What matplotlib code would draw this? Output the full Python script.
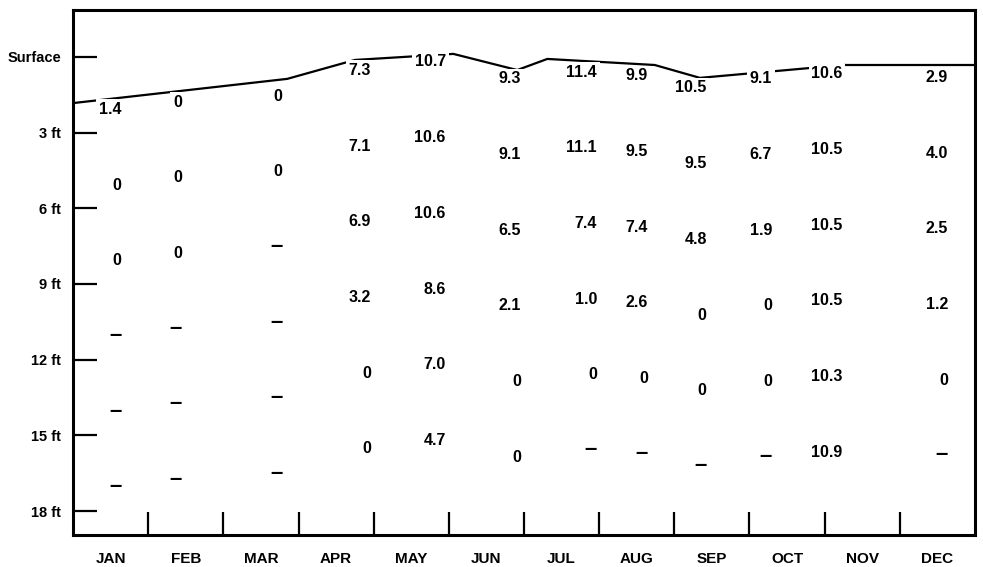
import matplotlib
matplotlib.use("Agg")
import matplotlib.pyplot as plt
import matplotlib.transforms as mtransforms

plt.rcParams['font.family'] = ['Liberation Sans', 'DejaVu Sans']
plt.rcParams['font.weight'] = 'bold'

months = ["JAN", "FEB", "MAR", "APR", "MAY", "JUN",
          "JUL", "AUG", "SEP", "OCT", "NOV", "DEC"]
depth_labels = ["Surface", "3 ft", "6 ft", "9 ft", "12 ft", "15 ft", "18 ft"]
depth_ticks = [0, 3, 6, 9, 12, 15, 18]

# readings per month, top to bottom ("–" = no reading)
readings = [
    ["1.4", "0", "0", "–", "–", "–"],
    ["0", "0", "0", "–", "–", "–"],
    ["0", "0", "–", "–", "–", "–"],
    ["7.3", "7.1", "6.9", "3.2", "0", "0"],
    ["10.7", "10.6", "10.6", "8.6", "7.0", "4.7"],
    ["9.3", "9.1", "6.5", "2.1", "0", "0"],
    ["11.4", "11.1", "7.4", "1.0", "0", "–"],
    ["9.9", "9.5", "7.4", "2.6", "0", "–"],
    ["10.5", "9.5", "4.8", "0", "0", "–"],
    ["9.1", "6.7", "1.9", "0", "0", "–"],
    ["10.6", "10.5", "10.5", "10.5", "10.3", "10.9"],
    ["2.9", "4.0", "2.5", "1.2", "0", "–"],
]
# sampling position in the month axis and depth of first reading (ft)
sample_pos = [0.645, 1.45, 2.79, 3.965, 4.96, 5.96, 6.97, 7.65, 8.43, 9.30, 10.24, 11.64]
first_depth = [2.06, 1.77, 1.53, 0.52, 0.18, 0.85, 0.58, 0.73, 1.21, 0.85, 0.65, 0.79]
row_step = 3.0

# water surface line
surf_x = [0, 2.85, 3.75, 5.06, 5.91, 6.31, 7.74, 8.34, 9.80, 10.27, 12.0]
surf_d = [1.83, 0.87, 0.12, -0.12, 0.52, 0.08, 0.32, 0.83, 0.44, 0.32, 0.32]

fig = plt.figure(figsize=(9.83, 5.67), dpi=100)
ax = fig.add_axes([73 / 983, 1 - 535 / 567, 902 / 983, 525 / 567])

ax.plot(surf_x, surf_d, color='black', lw=1.6, zorder=2)

# shift text down so the given depth is the middle of the digits
down = mtransforms.ScaledTranslation(0, -5 / 100, fig.dpi_scale_trans)
for i, col in enumerate(readings):
    for j, val in enumerate(col):
        size = 16 if val == "–" else 11.5
        ax.text(sample_pos[i], first_depth[i] + j * row_step, val,
                ha='right', va='baseline', fontsize=size, fontweight='bold',
                transform=ax.transData + down, zorder=3,
                bbox=dict(facecolor='white', edgecolor='none', pad=2))

ax.set_xlim(0, 12)
ax.set_ylim(18.95, -1.86)

ax.set_yticks(depth_ticks)
ax.set_yticklabels(depth_labels, fontsize=10.5, fontweight='bold')
ax.tick_params(axis='y', direction='in', length=17, width=1.6, pad=8.5)

ax.set_xticks(range(1, 12))
ax.set_xticklabels([])
ax.set_xticks([m + 0.5 for m in range(12)], minor=True)
ax.set_xticklabels(months, minor=True, fontsize=11, fontweight='bold')
ax.tick_params(axis='x', which='major', direction='in', length=16.5, width=1.6)
ax.tick_params(axis='x', which='minor', length=0, pad=12)

for s in ax.spines.values():
    s.set_linewidth(2.2)

fig.savefig("out.png", dpi=100)
